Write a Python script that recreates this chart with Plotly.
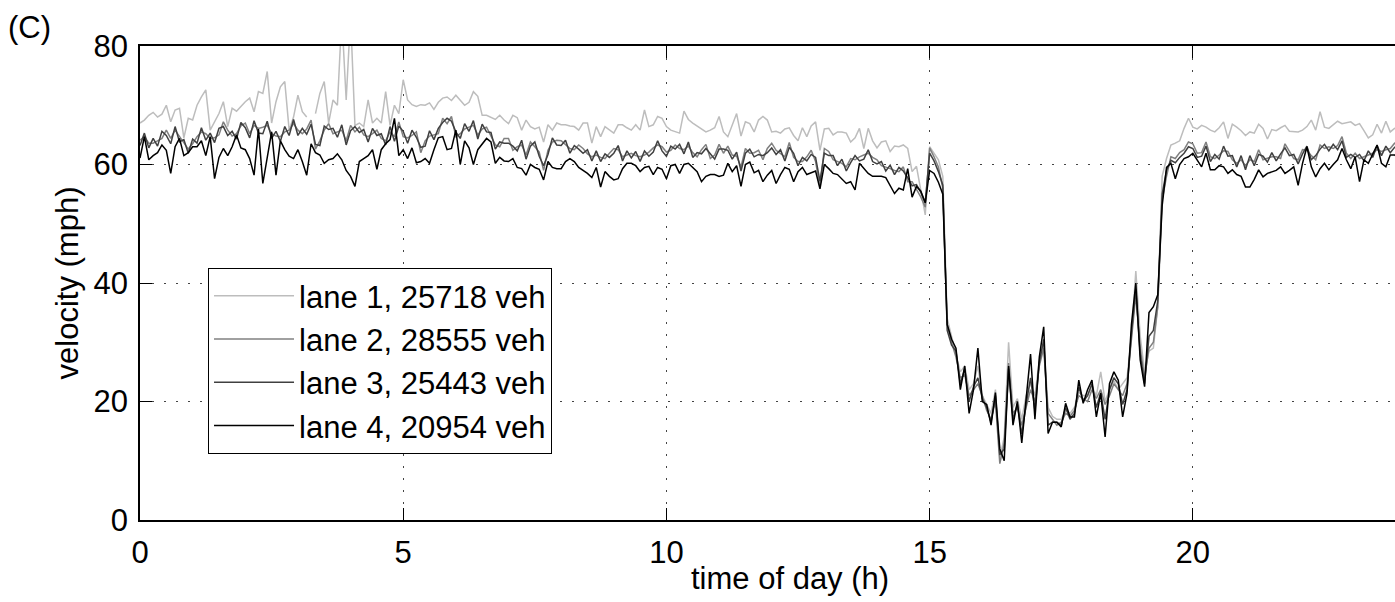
import plotly.graph_objects as go

# time of day in hours, 5-minute samples
TIME_H = [i / 12 for i in range(288)]

LANE_NAMES = ["lane 1, 25718 veh", "lane 2, 28555 veh", "lane 3, 25443 veh", "lane 4, 20954 veh"]

LANE1 = [
    67, 67.5, 68.3, 68.8, 68, 68.5, 70, 67.2, 69.2, 69.5, 64.5, 67.8,
    67.5, 70, 71.4, 72.6, 65.8, 67.2, 68.6, 70.6, 66.4, 69.5, 69, 69.8,
    70.6, 71.2, 68.9, 72.3, 72, 75.7, 67, 70.6, 73.1, 74, 65.8, 68,
    71.7, 68.9, 68, None, 68.6, 72, 74, 67, 70.9, 70, 85, 70.9,
    85, 66.6, 67, 66.4, 70.9, 67, 67.8, 67, 72.3, 66.6, 70, 68.6,
    74.3, 70.9, 70.1, 69.8, 70.1, 70, 70.4, 69.3, 70.5, 71.2, 71.4, 70.8,
    71.7, 70.8, 70, 70.5, 72.3, 71.5, 68.3, 68.3, 68, 67.6, 68.3, 67.5,
    66.9, 68.3, 67.9, 65.8, 67.5, 66.4, 66, 66.3, 63.8, 66.7, 65.8, 67,
    66.7, 66.7, 66.5, 66.4, 65.8, 67, 67, 63.6, 66.4, 64.7, 66.4, 65.8,
    65.3, 66.7, 66.7, 66.2, 65.8, 66.7, 65.8, 69.2, 66.4, 66.7, 68.1, 67.8,
    66.4, 65.8, 65.5, 65.3, 69, 67.6, 67, 66.5, 66, 65.5, 65.8, 66.2,
    68.1, 65.5, 64.7, 66.5, 68.6, 64.8, 67.2, 66.9, 65.5, 67.5, 68.1, 67.5,
    65.5, 65.6, 65.3, 66, 66.2, 64.9, 64, 66.2, 64.7, 66.5, 67.2, 62.4,
    66, 66.1, 65, 65.5, 65.5, 65.3, 63.8, 64.5, 66.1, 62.7, 66.1, 64,
    62.8, 63.8, 64, 62.2, 63.1, 63, 63.3, 62.7, 58.8, 59.7, 55.9, 51.5,
    63, 61.8, 60.8, 58, 34, 31, 28, 25, 26, 22, 23, 26,
    21, 19.5, 18, 22, 10.5, 14, 30, 19, 20.5, 17, 21, 23,
    21, 27, 30, 19, 17.5, 17, 17, 18.5, 18, 19, 21.5, 21,
    21, 22.5, 21, 25, 20, 22, 23.5, 22, 23, 24, 31, 42,
    31, 25, 28.5, 29, 36, 58, 61, 63.3, 63.6, 64, 66.1, 67.8,
    66.3, 66, 66.6, 66.3, 65.8, 65.5, 66.2, 67.2, 64.4, 66.8, 66.3, 65.7,
    64.9, 65.5, 65.3, 66.8, 66.1, 64.3, 65.9, 65.7, 66.2, 66.6, 65.6, 65.5,
    65.5, 65.8, 66.4, 67.5, 65.8, 68.9, 66.3, 66.1, 66.7, 67.3, 66.9, 67,
    67.2, 66.6, 66.9, 65.7, 64.5, 65, 66.8, 65.3, 67.3, 65.5, 66.1, 66,
]

LANE2 = [
    64.1, 64.7, 63.6, 63.6, 64, 64.4, 65.8, 64.4, 65.8, 64.7, 63.6, 62.6,
    63.5, 64.7, 65.5, 65.2, 64.4, 64.5, 65, 67.2, 65.8, 64.8, 65.2, 66.5,
    67, 65.2, 66.6, 66.1, 66.3, 66.6, 65.2, 64.8, 64.7, 65.5, 65.8, 66.9,
    65.8, 65.2, 66, 67.5, 62.6, 64, 65.8, 66.9, 65.2, 65.5, 65.8, 64,
    66.6, 65.5, 66.3, 65, 64.7, 65.2, 65.8, 64.4, 64, 65.5, 64.7, 67.2,
    64.7, 64.5, 64.9, 65.5, 62, 64, 64.8, 65, 65.2, 67.8, 66.9, 68.1,
    64.7, 65.2, 66, 66.3, 66.6, 65, 66, 66.3, 64.7, 63.3, 63, 64.4,
    64.4, 62.4, 63, 63.3, 61.6, 63.8, 63, 62.1, 59, 62.4, 63.8, 64.1,
    64, 63.3, 62.7, 62.5, 63.3, 62.7, 61.8, 61.3, 61.6, 61.2, 61, 61.9,
    62.7, 62.5, 61.3, 61.6, 61.9, 61.5, 61.3, 61.6, 62.1, 62.8, 63.3, 63,
    62.1, 62.4, 63.3, 62.7, 62.5, 63.1, 62, 61.3, 62.5, 63.4, 61, 61.6,
    63.4, 61.9, 63.1, 61.6, 61.4, 59.6, 62.7, 61.9, 62, 62.4, 60.8, 62.7,
    63.6, 62.4, 61.8, 61.3, 63.7, 61.2, 60.5, 60.5, 61.3, 62.4, 60.5, 56.3,
    62.7, 62.2, 60.8, 60.5, 60.2, 59.6, 61, 60.8, 61.3, 61.6, 61.9, 61.2,
    60.8, 59.8, 59.6, 59.3, 59, 58.8, 59.6, 57.1, 57.1, 55.9, 54.5, 52.8,
    62.8, 61.3, 59.6, 56, 33, 30, 27.5, 24, 24.5, 21, 22, 23,
    21, 18.5, 17, 20, 9.5, 13, 26.5, 18, 19, 16, 19, 22,
    20, 26, 29, 18, 17, 16, 16.5, 18, 17.5, 18.5, 21, 20.5,
    20, 22, 20.5, 22, 19.5, 21, 23, 22, 21, 23, 30, 38,
    29, 24, 29, 30, 36, 54, 58, 61.3, 61, 62, 62.5, 63.8,
    63.5, 61.9, 62, 63.8, 61.3, 61, 61.6, 62.3, 62.2, 60.8, 60.2, 60.8,
    59.8, 60.8, 60.5, 62.5, 60.8, 61.1, 61.3, 61.3, 61, 63.5, 62.2, 61,
    60.8, 62.5, 62.4, 61.5, 60.8, 63.3, 62.7, 63, 62.7, 63.2, 64.7, 61.9,
    61, 61.9, 61, 61.3, 61.6, 61.9, 62.5, 62.2, 62.5, 62.7, 63.6, 63.5,
]

LANE3 = [
    63.2, 65.3, 62.8, 64.4, 63.1, 65.6, 64.9, 63.5, 66.4, 63.8, 64.2, 61.9,
    64.3, 63.6, 66.2, 64.1, 65.3, 63.7, 66.1, 66.4, 64.9, 65.6, 64.3, 67.1,
    66.2, 64.5, 67.4, 65.3, 65.2, 67.3, 64.4, 65.6, 63.9, 66.4, 64.9, 67.6,
    64.9, 66.1, 65.1, 66.8, 63.4, 63.2, 66.5, 65.9, 66.1, 64.6, 66.7, 63.3,
    65.7, 66.4, 65.4, 65.9, 63.8, 66.1, 64.9, 65.2, 63.3, 66.4, 63.9, 66.5,
    65.6, 63.6, 65.8, 64.6, 62.9, 63.1, 65.7, 64.2, 66.1, 67.1, 67.8, 67.3,
    65.5, 64.4, 66.9, 65.6, 67.4, 64.3, 66.8, 65.5, 65.4, 62.6, 63.8, 63.6,
    63.6, 63.1, 62.3, 64.1, 60.9, 63.1, 63.8, 61.4, 59.8, 61.7, 64.5, 63.3,
    63.2, 64.1, 61.9, 63.2, 62.6, 61.9, 62.5, 60.6, 62.3, 60.5, 61.8, 61.2,
    61.9, 63.2, 60.6, 62.3, 61.1, 62.2, 60.5, 62.3, 61.4, 62.1, 64, 62.3,
    61.4, 63.1, 62.6, 63.4, 61.8, 63.8, 61.2, 62, 61.8, 62.7, 61.8, 60.9,
    62.6, 62.6, 62.4, 60.9, 62.1, 58.9, 61.9, 62.6, 61.3, 61.7, 61.5, 62,
    62.8, 61.7, 62.5, 60.6, 62.9, 61.9, 59.8, 61.2, 60.6, 61.7, 61.2, 57.2,
    61.9, 61.5, 61.5, 59.8, 60.9, 58.9, 60.3, 61.5, 60.6, 60.9, 62.5, 60.5,
    60.1, 60.5, 58.9, 59.9, 58.3, 59.5, 58.9, 57.8, 56.4, 56.6, 55.3, 53.6,
    61.9, 60.6, 58.8, 56.5, 32, 29.5, 28.5, 23, 25.5, 20, 22.5, 24,
    20.5, 19, 16.5, 21, 11, 12, 25.5, 17, 19.5, 14.5, 19.5, 24,
    18.5, 26.5, 30.5, 16, 16.5, 16.5, 16, 19, 17, 18, 22.5, 20,
    21, 23, 19, 21.5, 17, 22, 24, 23, 19.5, 22, 31.5, 39,
    28, 23, 31, 32, 37, 55, 59, 60.7, 60.3, 61.2, 61.9, 63,
    62.7, 61.2, 61.4, 63.1, 60.5, 61.7, 60.9, 63.1, 61.4, 61.5, 59.6, 61.5,
    59.1, 61.5, 59.8, 61.7, 61.4, 60.4, 62, 60.6, 61.8, 62.8, 61.5, 61.7,
    60.1, 61.8, 63.1, 60.8, 61.5, 62.6, 63.4, 62.3, 63.4, 62.5, 64, 61.2,
    61.7, 61.2, 61.7, 60.6, 62.3, 61.2, 63.2, 61.5, 63.1, 62, 62.9, 62.8,
]

LANE4 = [
    61.1, 64.7, 60.8, 61.5, 62, 63.3, 62.4, 58.5, 63, 64.4, 61.5, 62,
    63, 63, 64, 61.5, 64.7, 57.6, 61.2, 62.7, 61.5, 63, 65, 62.8,
    62.5, 61, 58.2, 66, 56.8, 61.2, 65.5, 58.2, 64, 62.5, 61.4, 61,
    62.5, 60.5, 58.2, 63.5, 62, 61.6, 60.2, 60.8, 61, 61.8, 60.8, 59,
    58, 56.3, 60.5, 61, 61.5, 62.5, 59.2, 62.5, 63.5, 64.2, 67.8, 61.5,
    62.5, 61, 62.8, 60.3, 60.5, 61, 60.2, 62.5, 64.5, 64.7, 62.5, 62.7,
    65.8, 60, 64, 62.8, 60, 62.5, 63.5, 64.4, 63.8, 60.2, 61.2, 60.6,
    60.5, 61, 59.5, 59.3, 58.2, 60, 59.5, 59.2, 57.4, 60.5, 59.5, 59.3,
    59.3, 60.5, 61, 60.5, 59.5, 59, 58.5, 57.8, 59.5, 56.2, 58.8, 58,
    57.4, 57.6, 59.3, 60.2, 60.2, 59.8, 58.8, 59.5, 59.7, 58.3, 59.5, 59.2,
    57.6, 59.8, 60, 58.5, 60, 60.2, 59.5, 58.8, 57.1, 58, 58.3, 58.3,
    58, 58.2, 60.2, 58.8, 59.8, 56.3, 60, 60.4, 58.6, 59, 57.1, 58.2,
    59, 56.8, 58.3, 59.5, 59.2, 57.1, 58.8, 59.5, 58.3, 58.6, 58.9, 55.9,
    60, 59.3, 58.5, 58.3, 57.5, 56.8, 57.1, 55.7, 60.2, 59.3, 58.5, 58,
    58, 58, 57.8, 56.5, 55.1, 56, 55.7, 59.3, 54.5, 56.3, 55.5, 53.5,
    59, 58.5, 57, 55, 33, 30.5, 29, 22, 26, 18, 22, 29,
    20, 19.5, 16, 21.5, 12, 10, 26, 16, 20, 13, 20, 28,
    17, 27.5, 32.6, 14.6, 16.5, 16.5, 15.7, 19.7, 17.4, 17.4, 23.6, 19.7,
    22, 23.6, 17.4, 21.4, 14, 23, 25, 23.6, 17.4, 21.4, 33, 40,
    27, 22.5, 35, 36, 38, 53, 59.5, 60.2, 57.6, 60, 61, 61.3,
    61.9, 60.8, 59.6, 61.9, 59.1, 59.1, 59.8, 59.6, 58.5, 59.1, 58.3, 58,
    56.2, 56.2, 57.5, 59.1, 57.9, 58.5, 58.8, 59, 59.6, 58.5, 59, 59.6,
    56.5, 60.2, 63, 59.6, 57.9, 59.3, 60.2, 59.1, 60, 60.8, 62.7, 60.8,
    59.3, 61.3, 57.1, 60.8, 60.2, 61.9, 63.3, 60.2, 59.6, 61.6, 61.6, 61,
]

LANE_COLORS = ["#bdbdbd", "#808080", "#404040", "#000000"]
X_TICKS = [0, 5, 10, 15, 20]
Y_TICKS = [0, 20, 40, 60, 80]

FONT = "Liberation Sans, Arial, Helvetica, sans-serif"
FS = 31

fig = go.Figure()
for name, vals, col in zip(LANE_NAMES, [LANE1, LANE2, LANE3, LANE4], LANE_COLORS):
    fig.add_trace(go.Scatter(x=TIME_H, y=vals, mode="lines", name=name,
                             line=dict(color=col, width=1.5), connectgaps=False))

grid = dict(showgrid=True, gridcolor="#444444", gridwidth=1, griddash="2px,10px",
            zeroline=False, showline=True, linecolor="black", linewidth=1.5,
            ticks="inside", ticklen=12, tickwidth=1, tickcolor="black",
            tickfont=dict(size=FS, color="black", family=FONT))

fig.update_layout(
    width=1395, height=602,
    margin=dict(l=140, r=0, t=46, b=82),
    paper_bgcolor="white", plot_bgcolor="white",
    font=dict(family=FONT, size=FS, color="black"),
    xaxis=dict(range=[0, 23.84], tickvals=X_TICKS, mirror="ticks",
               ticklabelstandoff=4, **grid),
    yaxis=dict(range=[0, 80], tickvals=Y_TICKS, mirror=False,
               ticklabelstandoff=4,
               title=dict(text="velocity (mph)", standoff=6,
                          font=dict(size=FS, family=FONT, color="black")),
               **grid),
    showlegend=True,
    legend=dict(x=0.0542, y=0.5316, xanchor="left", yanchor="top",
                bgcolor="white", bordercolor="black", borderwidth=1,
                font=dict(size=FS, family=FONT, color="black"),
                itemwidth=80, tracegroupgap=0,
                entrywidth=270, entrywidthmode="pixels"),
    annotations=[
        dict(text="(C)", xref="paper", yref="paper", x=-0.107, y=1.08,
             xanchor="left", yanchor="top", showarrow=False,
             font=dict(size=FS, family=FONT, color="black")),
        dict(text="time of day (h)", xref="paper", yref="paper", x=0.518, y=-0.124,
             xanchor="center", yanchor="middle", showarrow=False,
             font=dict(size=FS, family=FONT, color="black")),
    ],
)

fig.write_html("out.html")
